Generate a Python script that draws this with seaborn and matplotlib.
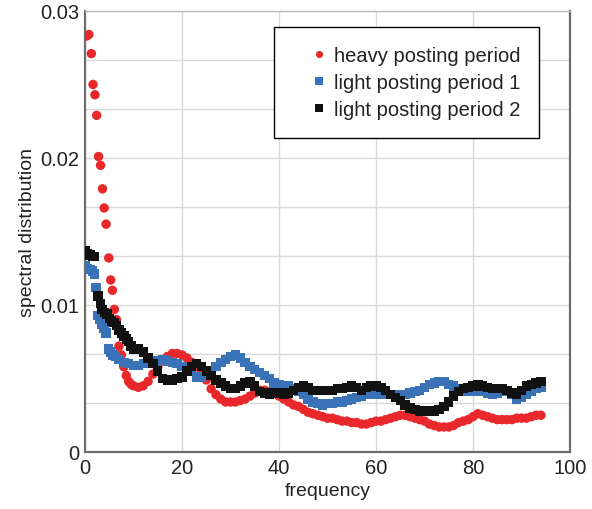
import numpy as np
import pandas as pd
import matplotlib
matplotlib.use("Agg")
import matplotlib.pyplot as plt
import seaborn as sns
from matplotlib.ticker import MultipleLocator, FuncFormatter

# Data

heavy_freq = [0.35, 0.8, 1.3, 1.65, 2.05, 2.4, 2.8, 3.2, 3.6, 3.95, 4.35, 4.9, 5.3, 5.65,
              6.05, 6.5, 7.0, 7.5, 8.0, 8.5, 9.0, 9.5, 10] + list(range(11, 95))
heavy_vals = [0.0283, 0.0284, 0.0271, 0.0250, 0.0243, 0.0229, 0.0201, 0.0195, 0.0179, 0.0166,
              0.0155, 0.0132, 0.0117, 0.0110, 0.0097, 0.0090, 0.0072, 0.0066, 0.0058, 0.0052,
              0.0048, 0.0046, 0.0045,
              0.0044, 0.0045, 0.0048, 0.0053, 0.0058, 0.0062, 0.0065, 0.0067, 0.0067, 0.0066,
              0.0064, 0.0061, 0.0058, 0.0054, 0.0049, 0.0043, 0.0039, 0.0036, 0.0034, 0.0034,
              0.0034, 0.0035, 0.0036, 0.0038, 0.0040, 0.0042, 0.0042, 0.0041, 0.0040, 0.0038,
              0.0036, 0.0034, 0.0032, 0.0031, 0.0029, 0.0027, 0.0026, 0.0025, 0.0024, 0.0023,
              0.0023, 0.0022, 0.0021, 0.0021, 0.0020, 0.0020, 0.0019, 0.0019, 0.0020, 0.0021,
              0.0021, 0.0022, 0.0023, 0.0024, 0.0025, 0.0025, 0.0024, 0.0023, 0.0022, 0.0021,
              0.0019, 0.0018, 0.0017, 0.0017, 0.0017, 0.0018, 0.0020, 0.0021, 0.0022, 0.0024,
              0.0026, 0.0025, 0.0024, 0.0023, 0.0022, 0.0022, 0.0022, 0.0022, 0.0023, 0.0023,
              0.0023, 0.0024, 0.0025, 0.0025]

light1_freq = [0.0, 0.5, 1.0, 1.5, 2.0, 2.3, 2.7, 3.1, 3.5, 3.9, 4.3, 4.9, 5.3, 5.8,
               6.3] + list(range(7, 95))
light1_vals = [0.0127, 0.0125, 0.0124, 0.0123, 0.0121, 0.0112, 0.0093, 0.0090, 0.0087, 0.0084,
               0.0081, 0.0070, 0.0068, 0.0066, 0.0065,
               0.0063, 0.0061, 0.0060, 0.0059, 0.0059, 0.0060, 0.0060, 0.0061, 0.0062, 0.0063,
               0.0062, 0.0061, 0.0060, 0.0058, 0.0058, 0.0055, 0.0051, 0.0051, 0.0052, 0.0055,
               0.0058, 0.0061, 0.0063, 0.0065, 0.0066, 0.0064, 0.0061, 0.0058, 0.0056, 0.0054,
               0.0052, 0.0050, 0.0047, 0.0046, 0.0045, 0.0045, 0.0043, 0.0041, 0.0039, 0.0036,
               0.0034, 0.0033, 0.0032, 0.0033, 0.0033, 0.0034, 0.0034, 0.0035, 0.0036, 0.0037,
               0.0038, 0.0039, 0.0040, 0.0039, 0.0039, 0.0039, 0.0039, 0.0039, 0.0039, 0.0039,
               0.0040, 0.0041, 0.0042, 0.0044, 0.0046, 0.0047, 0.0048, 0.0048, 0.0046, 0.0045,
               0.0043, 0.0042, 0.0041, 0.0041, 0.0042, 0.0041, 0.0040, 0.0039, 0.0040, 0.0042,
               0.0041, 0.0039, 0.0036, 0.0037, 0.0039, 0.0041, 0.0043, 0.0044]

light2_freq = [0.0, 0.5, 1.0, 1.5, 2.0, 2.7, 3.2, 3.5, 4.0, 4.5, 5.0, 5.5, 6.0, 6.5, 7.0,
               7.5, 8.0, 8.5, 9.0, 9.5] + list(range(10, 95))
light2_vals = [0.0137, 0.0135, 0.0134, 0.0133, 0.0133, 0.0106, 0.0101, 0.0097, 0.0095, 0.0094,
               0.0091, 0.0089, 0.0088, 0.0086, 0.0083, 0.0081, 0.0079, 0.0077, 0.0075, 0.0072,
               0.0070, 0.0070, 0.0068, 0.0064, 0.0060, 0.0055, 0.0050, 0.0049, 0.0049, 0.0050,
               0.0051, 0.0055, 0.0058, 0.0060, 0.0058, 0.0055, 0.0052, 0.0049, 0.0047, 0.0045,
               0.0043, 0.0043, 0.0045, 0.0047, 0.0048, 0.0045, 0.0041, 0.0040, 0.0039, 0.0040,
               0.0040, 0.0039, 0.0040, 0.0042, 0.0044, 0.0045, 0.0044, 0.0042, 0.0042, 0.0042,
               0.0042, 0.0042, 0.0043, 0.0043, 0.0044, 0.0045, 0.0044, 0.0042, 0.0044, 0.0045,
               0.0045, 0.0044, 0.0042, 0.0039, 0.0037, 0.0035, 0.0032, 0.0030, 0.0029, 0.0028,
               0.0028, 0.0028, 0.0028, 0.0029, 0.0031, 0.0034, 0.0038, 0.0041, 0.0043, 0.0044,
               0.0045, 0.0046, 0.0045, 0.0044, 0.0043, 0.0043, 0.0043, 0.0042, 0.0040, 0.0039,
               0.0042, 0.0045, 0.0046, 0.0047, 0.0048]

labels = ["heavy posting period", "light posting period 1", "light posting period 2"]
colors = ["#e8282a", "#3a72b8", "#111111"]

df = pd.concat([
    pd.DataFrame({"frequency": heavy_freq, "value": heavy_vals, "period": labels[0]}),
    pd.DataFrame({"frequency": light1_freq, "value": light1_vals, "period": labels[1]}),
    pd.DataFrame({"frequency": light2_freq, "value": light2_vals, "period": labels[2]}),
])

sns.set_style("white")
plt.rcParams["font.family"] = ["Liberation Sans", "DejaVu Sans"]

fig = plt.figure(figsize=(5.92, 5.10), dpi=100)
ax = fig.add_axes([0.1436, 0.1118, 0.8193, 0.8647])

sns.scatterplot(
    data=df, x="frequency", y="value", hue="period", style="period",
    palette=dict(zip(labels, colors)),
    markers={labels[0]: "o", labels[1]: "s", labels[2]: "s"},
    s=46, linewidth=0, ax=ax, zorder=3,
)

ax.set_xlim(0, 100)
ax.set_ylim(0, 0.03)
ax.xaxis.set_major_locator(MultipleLocator(20))
ax.yaxis.set_major_locator(MultipleLocator(0.01))
ax.yaxis.set_minor_locator(MultipleLocator(0.01 / 3))
ax.yaxis.set_major_formatter(FuncFormatter(lambda v, p: "0" if v == 0 else f"{v:.2f}"))
ax.grid(True, which="major", color="#d9d9d9", lw=1)
ax.grid(True, which="minor", axis="y", color="#d9d9d9", lw=1)
ax.set_axisbelow(True)
ax.tick_params(which="both", length=0, labelsize=14.5, colors="#222222", pad=4)

for side in ["left", "bottom", "right"]:
    ax.spines[side].set_color("#6e6e6e")
    ax.spines[side].set_linewidth(1.6)
ax.spines["top"].set_color("#bbbbbb")
ax.spines["top"].set_linewidth(1)

ax.set_xlabel("frequency", fontsize=14, color="#222222", labelpad=4)
ax.set_ylabel("spectral distribution", fontsize=14, color="#222222", labelpad=3)

leg = ax.legend(
    loc="upper left", bbox_to_anchor=(0.39, 0.964), borderaxespad=0,
    fontsize=14.5, frameon=True, fancybox=False, edgecolor="black",
    borderpad=0.95, handlelength=2.6, handletextpad=-0.6, labelspacing=0.4,
    markerscale=0.75, title=None,
)
leg.get_frame().set_linewidth(1)
leg.get_frame().set_alpha(1)
for t in leg.get_texts():
    t.set_color("#222222")

fig.savefig("out.png", dpi=100)
